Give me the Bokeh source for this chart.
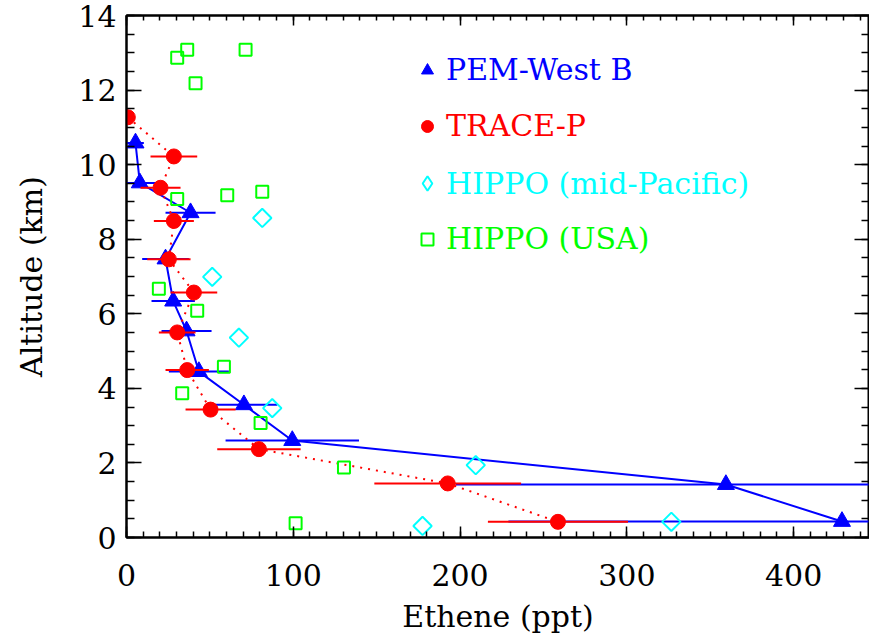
from bokeh.plotting import figure
from bokeh.models import (Range1d, SingleIntervalTicker, LinearAxis, Legend,
                          LegendItem, ColumnDataSource)
from bokeh.embed import file_html
from bokeh.resources import INLINE
import math

# PEM-West B profile: altitude (km), ethene (ppt), horizontal spread (ppt)
pem_alt = [10.58, 9.51, 8.71, 7.47, 6.34, 5.54, 4.45, 3.56, 2.60, 1.42, 0.43]
pem_eth = [5.4, 8.0, 38.4, 23.4, 28.0, 36.0, 43.4, 70.4, 99.4, 359.4, 429.0]
pem_err = [5, 10, 15, 14, 13, 15, 18, 20, 40, 162, 200]

# TRACE-P profile
trace_alt = [11.27, 10.22, 9.38, 8.49, 7.46, 6.57, 5.50, 4.49, 3.43, 2.37, 1.45, 0.42]
trace_eth = [0.8, 28.4, 20.4, 28.4, 25.4, 40.4, 30.4, 36.4, 50.4, 79.4, 192.6, 258.7]
trace_err = [0, 14, 12, 12, 13, 14, 11, 13, 15, 25, 44, 42]

# HIPPO mid-Pacific
mid_alt = [8.57, 6.99, 5.36, 3.47, 1.94, 0.31, 0.42]
mid_eth = [81.4, 51.4, 67.4, 87.4, 209.4, 177.5, 326.7]

# HIPPO over the USA
usa_alt = [13.08, 12.87, 13.08, 12.18, 9.08, 9.18, 9.27, 6.67, 6.08, 4.58,
           3.87, 3.07, 1.88, 0.38]
usa_eth = [36.4, 30.4, 71.4, 41.4, 30.4, 60.4, 81.4, 19.4, 42.4, 58.4,
           33.4, 80.4, 130.4, 101.4]

series_names = ["PEM-West B", "TRACE-P", "HIPPO (mid-Pacific)", "HIPPO (USA)"]

BLUE = "#0000ff"
RED = "#ff0000"
CYAN = "#00ffff"
GREEN = "#00ff00"
FONT = "DejaVu Serif"
FS = "30px"

p = figure(width=869, height=636,
           x_range=Range1d(0, 445.5), y_range=Range1d(0, 14),
           output_backend="svg", toolbar_location=None,
           min_border_left=126, min_border_right=0,
           min_border_top=15, min_border_bottom=99)
p.background_fill_color = "white"
p.border_fill_color = "white"
p.outline_line_color = "black"
p.outline_line_width = 2
p.xgrid.visible = False
p.ygrid.visible = False


def style_axis(ax, major, minor, labels=True):
    ax.axis_line_color = "black"
    ax.axis_line_width = 2
    ax.major_tick_in = major
    ax.major_tick_out = 0
    ax.minor_tick_in = minor
    ax.minor_tick_out = 0
    ax.major_tick_line_width = 1.5
    ax.minor_tick_line_width = 1.5
    ax.major_tick_line_color = "black"
    ax.minor_tick_line_color = "black"
    if labels:
        ax.major_label_text_font = FONT
        ax.major_label_text_font_size = FS
        ax.major_label_text_color = "black"
        ax.axis_label_text_font = FONT
        ax.axis_label_text_font_size = FS
        ax.axis_label_text_font_style = "normal"
        ax.axis_label_text_color = "black"
    else:
        # tick marks only on the opposite sides of the box
        ax.major_label_text_font_size = "0px"
        ax.major_label_text_color = None
        ax.major_label_standoff = 0


xa = p.xaxis[0]
xa.ticker = SingleIntervalTicker(interval=100, num_minor_ticks=10)
xa.axis_label = "Ethene (ppt)"
style_axis(xa, 11, 6)
xa.major_label_standoff = 26
xa.axis_label_standoff = 10

ya = p.yaxis[0]
ya.ticker = SingleIntervalTicker(interval=2, num_minor_ticks=4)
ya.axis_label = "Altitude (km)"
style_axis(ya, 15, 8)
ya.major_label_standoff = 10
ya.axis_label_standoff = 26

top = LinearAxis(ticker=SingleIntervalTicker(interval=100, num_minor_ticks=10))
style_axis(top, 10, 5, labels=False)
p.add_layout(top, "above")

right = LinearAxis(ticker=SingleIntervalTicker(interval=2, num_minor_ticks=4))
style_axis(right, 15, 8, labels=False)
p.add_layout(right, "right")

# PEM-West B: spread bars, connecting line, triangles
pem = ColumnDataSource(dict(
    x=pem_eth, y=pem_alt,
    lo=[v - e for v, e in zip(pem_eth, pem_err)],
    hi=[v + e for v, e in zip(pem_eth, pem_err)]))
p.segment(x0="lo", x1="hi", y0="y", y1="y", source=pem,
          line_color=BLUE, line_width=2)
p.line(x="x", y="y", source=pem, line_color=BLUE, line_width=2)
r_pem = p.scatter(x="x", y="y", source=pem, marker="triangle", size=17,
                  fill_color=BLUE, line_color=BLUE)

# TRACE-P: spread bars, dotted line, filled circles
trace = ColumnDataSource(dict(
    x=trace_eth, y=trace_alt,
    lo=[v - e for v, e in zip(trace_eth, trace_err)],
    hi=[v + e for v, e in zip(trace_eth, trace_err)]))
p.segment(x0="lo", x1="hi", y0="y", y1="y", source=trace,
          line_color=RED, line_width=2)
p.line(x="x", y="y", source=trace, line_color=RED, line_width=2,
       line_dash="2 6")
r_trace = p.scatter(x="x", y="y", source=trace, marker="circle", size=15,
                    fill_color=RED, line_color=RED)

# HIPPO: open diamonds (squares turned by 45 degrees) and open squares
mid = ColumnDataSource(dict(x=mid_eth, y=mid_alt))
r_mid = p.scatter(x="x", y="y", source=mid, marker="square", size=13,
                  angle=math.pi / 4, fill_color=None, line_color=CYAN,
                  line_width=2)
r_usa = p.scatter(x=usa_eth, y=usa_alt, marker="square", size=12,
                  fill_color=None, line_color=GREEN, line_width=2)

# legend key for the diamonds (legend keys are drawn unrotated); size 0
# keeps it out of the plot area, the legend sizes its key on its own
r_mid_key = p.scatter(x="x", y="y", source=mid, marker="diamond", size=0,
                      fill_color=None, line_color=CYAN, line_width=2)

# One legend per series so each label carries its series colour
legend_rows = [(r_pem, BLUE, 450, 30, 286, 4),
               (r_trace, RED, 394, 30, 286, 4),
               (r_mid_key, CYAN, 336, 36, 283, 1),
               (r_usa, GREEN, 281, 30, 286, 4)]
for name, (rend, col, vy, gw, vx, standoff) in zip(series_names, legend_rows):
    leg = Legend(items=[LegendItem(label=name, renderers=[rend])],
                 location=(vx, vy), glyph_width=gw, glyph_height=gw,
                 label_height=30, label_standoff=standoff, padding=0,
                 margin=0, spacing=0, border_line_color=None,
                 background_fill_alpha=0,
                 label_text_font=FONT, label_text_font_size=FS,
                 label_text_color=col)
    p.add_layout(leg)

open("out.html", "w").write(file_html(p, INLINE))
